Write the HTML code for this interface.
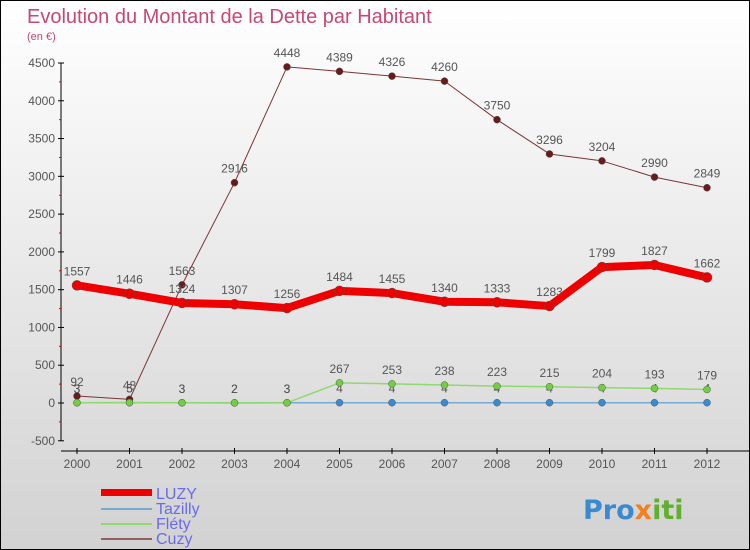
<!DOCTYPE html>
<html><head><meta charset="utf-8"><style>
body{margin:0}
#c{width:750px;height:550px;position:relative;box-sizing:border-box;border:1px solid #000;background:linear-gradient(#fff,#d2d2d2);font-family:"Liberation Sans",sans-serif;overflow:hidden}
</style></head><body>
<div id="c">
<svg id="s" width="748" height="548" style="position:absolute;left:0;top:0">
<text x="26" y="22" font-size="20" fill="#c84870">Evolution du Montant de la Dette par Habitant</text>
<text x="26" y="39" font-size="11" fill="#c84870">(en €)</text>
<g id="axes"></g><g id="series"></g>
<g>
<rect x="100" y="488" width="51" height="7" fill="#e00"/>
<text x="155" y="498" font-size="16" fill="#6a6af0">LUZY</text>
<rect x="100" y="507" width="51" height="2" fill="#7aaad0"/>
<text x="155" y="513" font-size="16" fill="#6a6af0">Tazilly</text>
<rect x="100" y="522" width="51" height="2" fill="#90d870"/>
<text x="155" y="528" font-size="16" fill="#6a6af0">Fléty</text>
<rect x="100" y="537" width="51" height="2" fill="#906060"/>
<text x="155" y="543" font-size="16" fill="#6a6af0">Cuzy</text>
</g>
<text x="582" y="518" font-size="27" font-weight="bold" fill="#3a8ad0" font-family="DejaVu Sans">Pro<tspan fill="#f08020">x</tspan><tspan fill="#60b030">iti</tspan></text>
</svg>
</div>
<script>
const years=[2000,2001,2002,2003,2004,2005,2006,2007,2008,2009,2010,2011,2012];
const yTicks=[-500,0,500,1000,1500,2000,2500,3000,3500,4000,4500];
const luzy=[1557,1446,1324,1307,1256,1484,1455,1340,1333,1283,1799,1827,1662];
const tazilly=[3,5,3,2,3,4,4,4,4,4,4,4,4];
const flety=[3,5,3,2,3,267,253,238,223,215,204,193,179];
const cuzy=[92,48,1563,2916,4448,4389,4326,4260,3750,3296,3204,2990,2849];
const NS="http://www.w3.org/2000/svg";
const X=i=>76+i*52.5, Y=v=>402-v*340/4500;
function el(t,a,p,name){const e=document.createElementNS(NS,t);for(const k in a)e.setAttribute(k,a[k]);


p.appendChild(e);return e;}
const ax=document.getElementById('axes'),sg=document.getElementById('series');
el('line',{x1:60,y1:Y(4500),x2:60,y2:Y(-500),stroke:'#000'},ax,'y-axis');
el('line',{x1:60,y1:450,x2:748,y2:450,stroke:'#000'},ax,'x-axis');
yTicks.forEach(v=>{el('line',{x1:57,x2:63,y1:Y(v),y2:Y(v),stroke:'#000'},ax,'y-tick');
const t=el('text',{x:54,y:Y(v)+4,'font-size':12,'text-anchor':'end',fill:'#555'},ax,'y-tick-label');t.textContent=v;
if(v<4500)el('line',{x1:58,x2:60,y1:Y(v+250),y2:Y(v+250),stroke:'#d00'},ax,'y-minor-tick');});
years.forEach((y,i)=>{el('line',{x1:X(i),x2:X(i),y1:447,y2:453,stroke:'#000'},ax,'x-tick');
const t=el('text',{x:X(i),y:467,'font-size':12,'text-anchor':'middle',fill:'#555'},ax,'x-tick-label');t.textContent=y;});
function draw(d,col,w,r,dot,name,lbl){
el('polyline',{points:d.map((v,i)=>X(i)+','+Y(v)).join(' '),fill:'none',stroke:col,'stroke-width':w,'stroke-linejoin':'round'},sg,name+'-line');
d.forEach((v,i)=>{el('circle',{cx:X(i),cy:Y(v),r:r,fill:dot,stroke:'#555','stroke-width':0.5},sg,name+'-point');
if(lbl){const t=el('text',{x:X(i),y:Y(v)-10,'font-size':12,'text-anchor':'middle',fill:'#555'},sg,name+'-value-label');t.textContent=v;}});}
draw(cuzy,'#7a3535',1,3.5,'#6a1a1a','cuzy',true);
draw(tazilly,'#7aaad0',1.5,3.5,'#3a8ad0','tazilly',true);
draw(flety,'#90d870',1.5,3.5,'#70d040','flety',true);
draw(luzy,'#e00',8,5,'#e00','luzy',true);
</script>
</body></html>
